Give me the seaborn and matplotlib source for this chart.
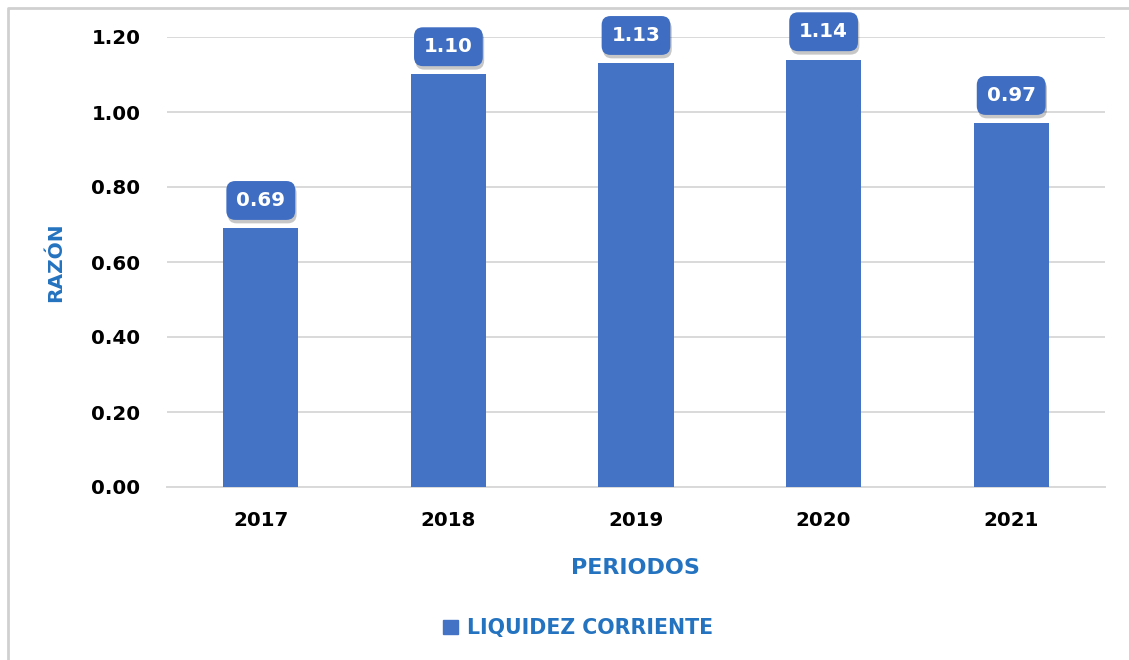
import matplotlib
matplotlib.use("Agg")
import matplotlib.pyplot as plt
import matplotlib.patches as mpatches
import matplotlib.patheffects as pe
from matplotlib.lines import Line2D
import seaborn as sns
import pandas as pd

# Data
periodos = ["2017", "2018", "2019", "2020", "2021"]
liquidez = [0.69, 1.10, 1.13, 1.14, 0.97]
y_ticks = [0.00, 0.20, 0.40, 0.60, 0.80, 1.00, 1.20]

BAR_COLOR = "#4472C4"
LABEL_BOX = "#3E6DC2"
TITLE_BLUE = "#2473C0"
GRID_GRAY = "#D9D9D9"

sns.set_theme(style="white")
plt.rcParams["font.family"] = ["DejaVu Sans"]

df = pd.DataFrame({"Periodo": periodos, "Liquidez": liquidez})

fig = plt.figure(figsize=(11.29, 6.60), dpi=100)
fig.patch.set_facecolor("white")

# chart-area border: left and top edges only
bx, by = 8 / 1129, 1 - 8 / 660
fig.add_artist(Line2D([bx, bx, 1.0], [0.0, by, by], transform=fig.transFigure,
                      color="#D0D0D0", linewidth=2.0))

ax = fig.add_axes([167 / 1129, 1 - 487 / 660, (1105 - 167) / 1129, (487 - 37) / 660])

sns.barplot(data=df, x="Periodo", y="Liquidez", color=BAR_COLOR,
            saturation=1, width=0.40, linewidth=0, ax=ax, zorder=3)

ax.set_ylim(0, 1.2)
ax.set_yticks(y_ticks)
ax.set_yticklabels([f"{v:.2f}" for v in y_ticks])
ax.yaxis.grid(True, color=GRID_GRAY, linewidth=1.4, zorder=0)
ax.xaxis.grid(False)
ax.set_axisbelow(True)
for s in ["top", "right", "left"]:
    ax.spines[s].set_visible(False)
ax.spines["bottom"].set_color(GRID_GRAY)
ax.spines["bottom"].set_linewidth(1.4)
ax.spines["bottom"].set_zorder(1)

ax.tick_params(axis="both", length=0, labelsize=14.3, labelcolor="black")
ax.tick_params(axis="y", pad=19)
ax.tick_params(axis="x", pad=17)
for lab in ax.get_xticklabels() + ax.get_yticklabels():
    lab.set_fontweight("bold")

ax.set_xlabel("PERIODOS", fontsize=16, fontweight="bold", color=TITLE_BLUE)
ax.set_ylabel("RAZÓN", fontsize=14.5, fontweight="bold", color=TITLE_BLUE)
ax.xaxis.set_label_coords(0.499, -0.158)
ax.yaxis.set_label_coords(-0.1087, 0.5)

# value labels in rounded boxes
for i, v in enumerate(liquidez):
    t = ax.annotate(f"{v:.2f}", xy=(i, v), xytext=(0, 20),
                    textcoords="offset points", ha="center", va="center",
                    fontsize=14.3, fontweight="bold", color="white",
                    annotation_clip=False, zorder=5,
                    bbox=dict(boxstyle="round,pad=0.5,rounding_size=0.45",
                              facecolor=LABEL_BOX, edgecolor="none"))
    t.get_bbox_patch().set_path_effects([
        pe.SimplePatchShadow(offset=(1.0, -2.5), shadow_rgbFace="#000000", alpha=0.22),
        pe.Normal()])

handle = mpatches.Patch(color=BAR_COLOR, label="LIQUIDEZ CORRIENTE")
leg = fig.legend(handles=[handle], loc="center", bbox_to_anchor=(0.512, 1 - 628 / 660),
                 frameon=False, fontsize=14.8, handlelength=0.7, handleheight=0.7,
                 handletextpad=0.45, labelcolor=TITLE_BLUE)
for txt in leg.get_texts():
    txt.set_fontweight("bold")

fig.savefig("out.png", dpi=100, facecolor="white")
